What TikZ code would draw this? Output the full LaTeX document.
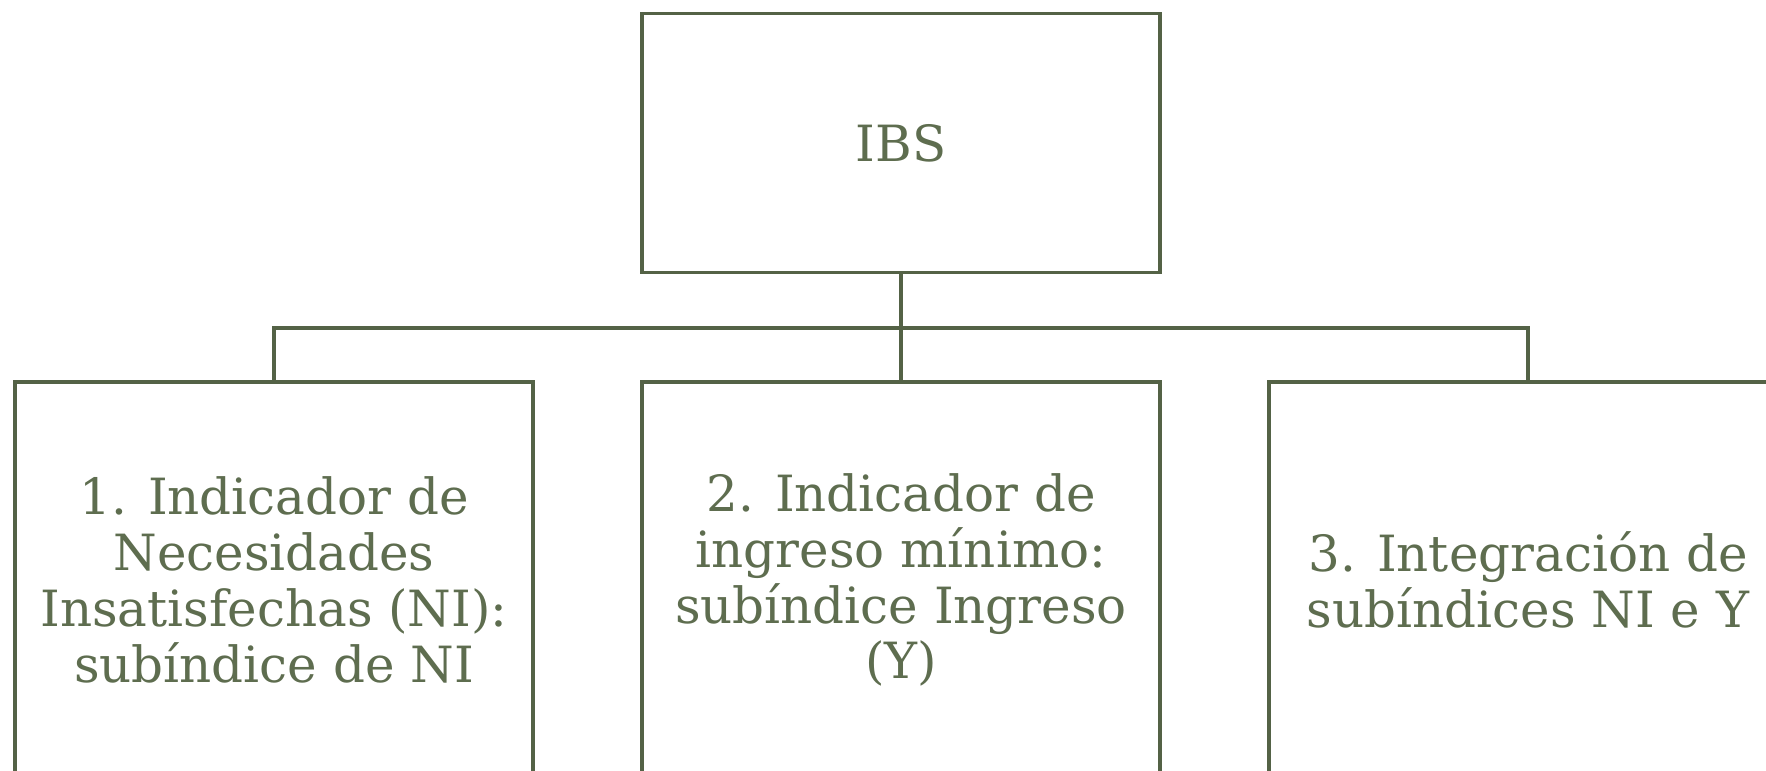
\documentclass[tikz,border=0pt]{standalone}
\usepackage{fontspec}
\setmainfont{DejaVu Serif}
\usetikzlibrary{positioning}
\definecolor{oliveText}{RGB}{94,109,79}
\definecolor{oliveLine}{RGB}{84,98,70}
\tikzset{
    idxBox/.style={rectangle, draw=oliveLine, line width=0.9pt, text=oliveText, align=center, minimum width=51.8mm, inner sep=0pt, font=\fontsize{14.2pt}{15.9pt}\selectfont},
    topBox/.style={idxBox, minimum height=25.9mm},
    subBox/.style={idxBox, minimum height=39.6mm},
    treeLink/.style={draw=oliveLine, line width=0.9pt},
}

\begin{document}
\begin{tikzpicture}[x=1mm, y=1mm]
        \useasboundingbox (0,0) rectangle (176.6,-77.1);

        \node[topBox] (ibs) at (90.1, -14.3) {IBS};
        \node[subBox] (ni) at (27.4, -58.0) {1. Indicador de\\Necesidades\\Insatisfechas (NI):\\subíndice de NI};
        \node[subBox] (ing) at (90.1, -58.0) {2. Indicador de\\ingreso mínimo:\\subíndice Ingreso\\(Y)};
        \node[subBox] (integ) at (152.8, -58.0) {3. Integración de\\subíndices NI e Y};
        \coordinate (bar) at (90.1, -32.8);

        \draw[treeLink] (ibs) -- (ing);
        \draw[treeLink] (ni.north) |- (bar) -| (integ.north);

    \end{tikzpicture}
\end{document}
